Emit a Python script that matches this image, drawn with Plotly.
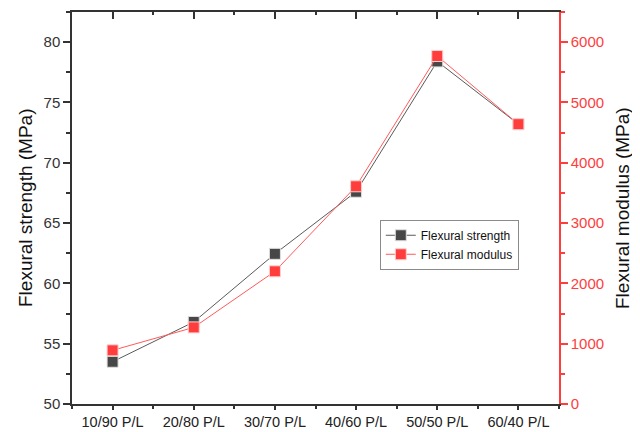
import plotly.graph_objects as go

categories = ["10/90 P/L", "20/80 P/L", "30/70 P/L", "40/60 P/L", "50/50 P/L", "60/40 P/L"]
flexural_strength = [53.5, 56.8, 62.45, 67.6, 78.4, 73.2]
flexural_modulus = [890, 1270, 2200, 3610, 5770, 4640]
left_ticks = [50, 55, 60, 65, 70, 75, 80]
right_ticks = [0, 1000, 2000, 3000, 4000, 5000, 6000]

x_idx = list(range(len(categories)))
FONT = "Liberation Sans, Arial, sans-serif"
BLACK = "#474747"
RED = "#ff3d3d"
AXC = "#333333"

fig = go.Figure()
fig.add_trace(go.Scatter(
    x=x_idx, y=flexural_strength, name="Flexural strength", mode="lines+markers",
    line=dict(color="#5a5a5a", width=1),
    marker=dict(symbol="square", size=11, color=BLACK, line=dict(color="#e0e0e0", width=1)),
))
fig.add_trace(go.Scatter(
    x=x_idx, y=flexural_modulus, name="Flexural modulus", mode="lines+markers", yaxis="y2",
    line=dict(color="#ff5a5a", width=1),
    marker=dict(symbol="square", size=11, color=RED, line=dict(color="#ffd0d0", width=1)),
))
# invisible trace to carry the top (mirror) axis
fig.add_trace(go.Scatter(x=x_idx, y=flexural_strength, xaxis="x2", mode="lines",
                         opacity=0, showlegend=False, hoverinfo="skip"))

minor_vals = [i + 0.5 for i in range(-1, len(categories))]

# page body has an 8px margin: figure occupies (8..640, 8..432)
fig.update_layout(
    width=632, height=424,
    margin=dict(l=64, r=81, t=4, b=28, autoexpand=False),
    paper_bgcolor="white", plot_bgcolor="white",
    font=dict(family=FONT, size=15, color=AXC),
    showlegend=True,
    legend=dict(x=0.632, y=0.47, xanchor="left", yanchor="top",
                bordercolor="#8a8a8a", borderwidth=1, bgcolor="white",
                font=dict(size=12, color="#111111"), tracegroupgap=0,
                itemwidth=30),
    xaxis=dict(range=[-0.5, 5.5], tickmode="array", tickvals=x_idx, ticktext=categories,
               automargin=False,
               showgrid=False, zeroline=False, showline=True, linecolor=AXC, linewidth=1.5,
               ticks="outside", ticklen=4, tickwidth=1.5, tickcolor=AXC,
               tickfont=dict(size=14.5, color="#222222"),
               minor=dict(tickmode="array", tickvals=minor_vals, ticks="outside",
                          ticklen=3, tickwidth=1.5, tickcolor=AXC, showgrid=False)),
    xaxis2=dict(range=[-0.5, 5.5], overlaying="x", side="top", tickmode="array",
                automargin=False,
                tickvals=x_idx, showticklabels=False, showgrid=False, zeroline=False,
                showline=True, linecolor=AXC, linewidth=1.5,
                ticks="inside", ticklen=7, tickwidth=1.5, tickcolor=AXC,
                minor=dict(tickmode="array", tickvals=minor_vals, ticks="inside",
                           ticklen=3, tickwidth=1.5, tickcolor=AXC, showgrid=False)),
    yaxis=dict(range=[50, 82.5], tickmode="array", tickvals=left_ticks,
               automargin=False,
               showgrid=False, zeroline=False, showline=True, linecolor=AXC, linewidth=1.5,
               ticks="outside", ticklen=7, tickwidth=1.5, tickcolor=AXC,
               tickfont=dict(size=15, color="#333333"),
               minor=dict(dtick=2.5, tick0=50, ticks="outside", ticklen=4, tickwidth=1.5,
                          tickcolor=AXC, showgrid=False)),
    yaxis2=dict(range=[0, 6500], overlaying="y", side="right", tickmode="array",
                automargin=False,
                tickvals=right_ticks, showgrid=False, zeroline=False,
                showline=True, linecolor=RED, linewidth=1.5,
                ticks="outside", ticklen=7, tickwidth=1.5, tickcolor=RED,
                tickfont=dict(size=15, color=RED),
                minor=dict(dtick=500, tick0=0, ticks="outside", ticklen=4, tickwidth=1.5,
                           tickcolor=RED, showgrid=False)),
    annotations=[
        dict(text="Flexural strength (MPa)", xref="paper", yref="paper",
             x=(25 - 72) / 487, y=0.5, xanchor="center", yanchor="middle",
             textangle=-90, showarrow=False, font=dict(size=19, color="#111111")),
        dict(text="Flexural modulus (MPa)", xref="paper", yref="paper",
             x=(622 - 72) / 487, y=0.5, xanchor="center", yanchor="middle",
             textangle=-90, showarrow=False, font=dict(size=19, color="#111111")),
    ],
)

fig.write_html("out.html")
